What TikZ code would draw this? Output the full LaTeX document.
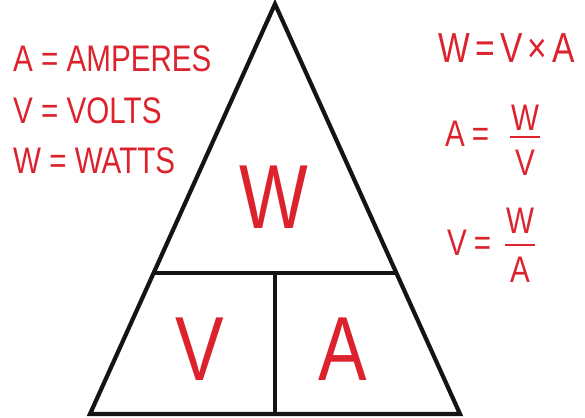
\documentclass[tikz,border=0pt]{standalone}
\usepackage{fontspec}
\setmainfont{Liberation Sans}[FakeStretch=0.8]
\definecolor{ohmred}{RGB}{220,34,44}
\definecolor{ink}{RGB}{20,20,20}
\begin{document}
\begin{tikzpicture}[x=1pt,y=-1pt,
  lbl/.style={text=ohmred,inner sep=0pt,anchor=base west,font=\fontsize{37}{40}\selectfont},
  big/.style={text=ohmred,inner sep=0pt,anchor=base,font=\fontsize{91}{95}\selectfont},
  frm/.style={text=ohmred,inner sep=0pt,font=\fontsize{37}{40}\selectfont},
  bar/.style={draw=ohmred,line width=2.5pt},
  edge/.style={draw=ink,line width=4.2pt}]
\useasboundingbox (0,0) rectangle (585,417);
% triangle
\coordinate (top) at (275,4);
\coordinate (bl) at (90,414);
\coordinate (br) at (460,414);
\coordinate (ml) at (154,273);
\coordinate (mr) at (396,273);
\coordinate (mc) at (275,273);
\coordinate (bc) at (275,414);
\draw[edge,line join=miter] (bl) -- (top) -- (br) -- cycle;
\draw[edge] (ml) -- (mr);
\draw[edge] (mc) -- (bc);
% legend
\node[lbl] (la) at (13,72) {A = AMPERES};
\node[lbl] (lv) at (13,123) {V = VOLTS};
\node[lbl] (lw) at (13,173) {W = WATTS};
% triangle letters
\node[big] (tw) at (274,228) {W};
\node[big] (tv) at (200,380) {V};
\node[big] (ta) at (343,380) {A};
% formulas
\node[frm,anchor=base west,font=\fontsize{42}{45}\selectfont] (f1) at (438,63) {W\hspace{5.5pt}=\hspace{5.5pt}V\hspace{5pt}×\hspace{5pt}A};
\node[frm,anchor=base west] (f2l) at (445,146) {A\hspace{7pt}=};
\coordinate (b2l) at (510,137);
\coordinate (b2r) at (540,137);
\draw[bar] (b2l) -- (b2r);
\node[frm,anchor=base] (f2n) at (525,130) {W};
\node[frm,anchor=base] (f2d) at (525,175) {V};
\node[frm,anchor=base west] (f3l) at (447,255) {V\hspace{7pt}=};
\coordinate (b3l) at (505,245);
\coordinate (b3r) at (535,245);
\draw[bar] (b3l) -- (b3r);
\node[frm,anchor=base] (f3n) at (520,233) {W};
\node[frm,anchor=base] (f3d) at (520,282) {A};
\end{tikzpicture}
\end{document}
